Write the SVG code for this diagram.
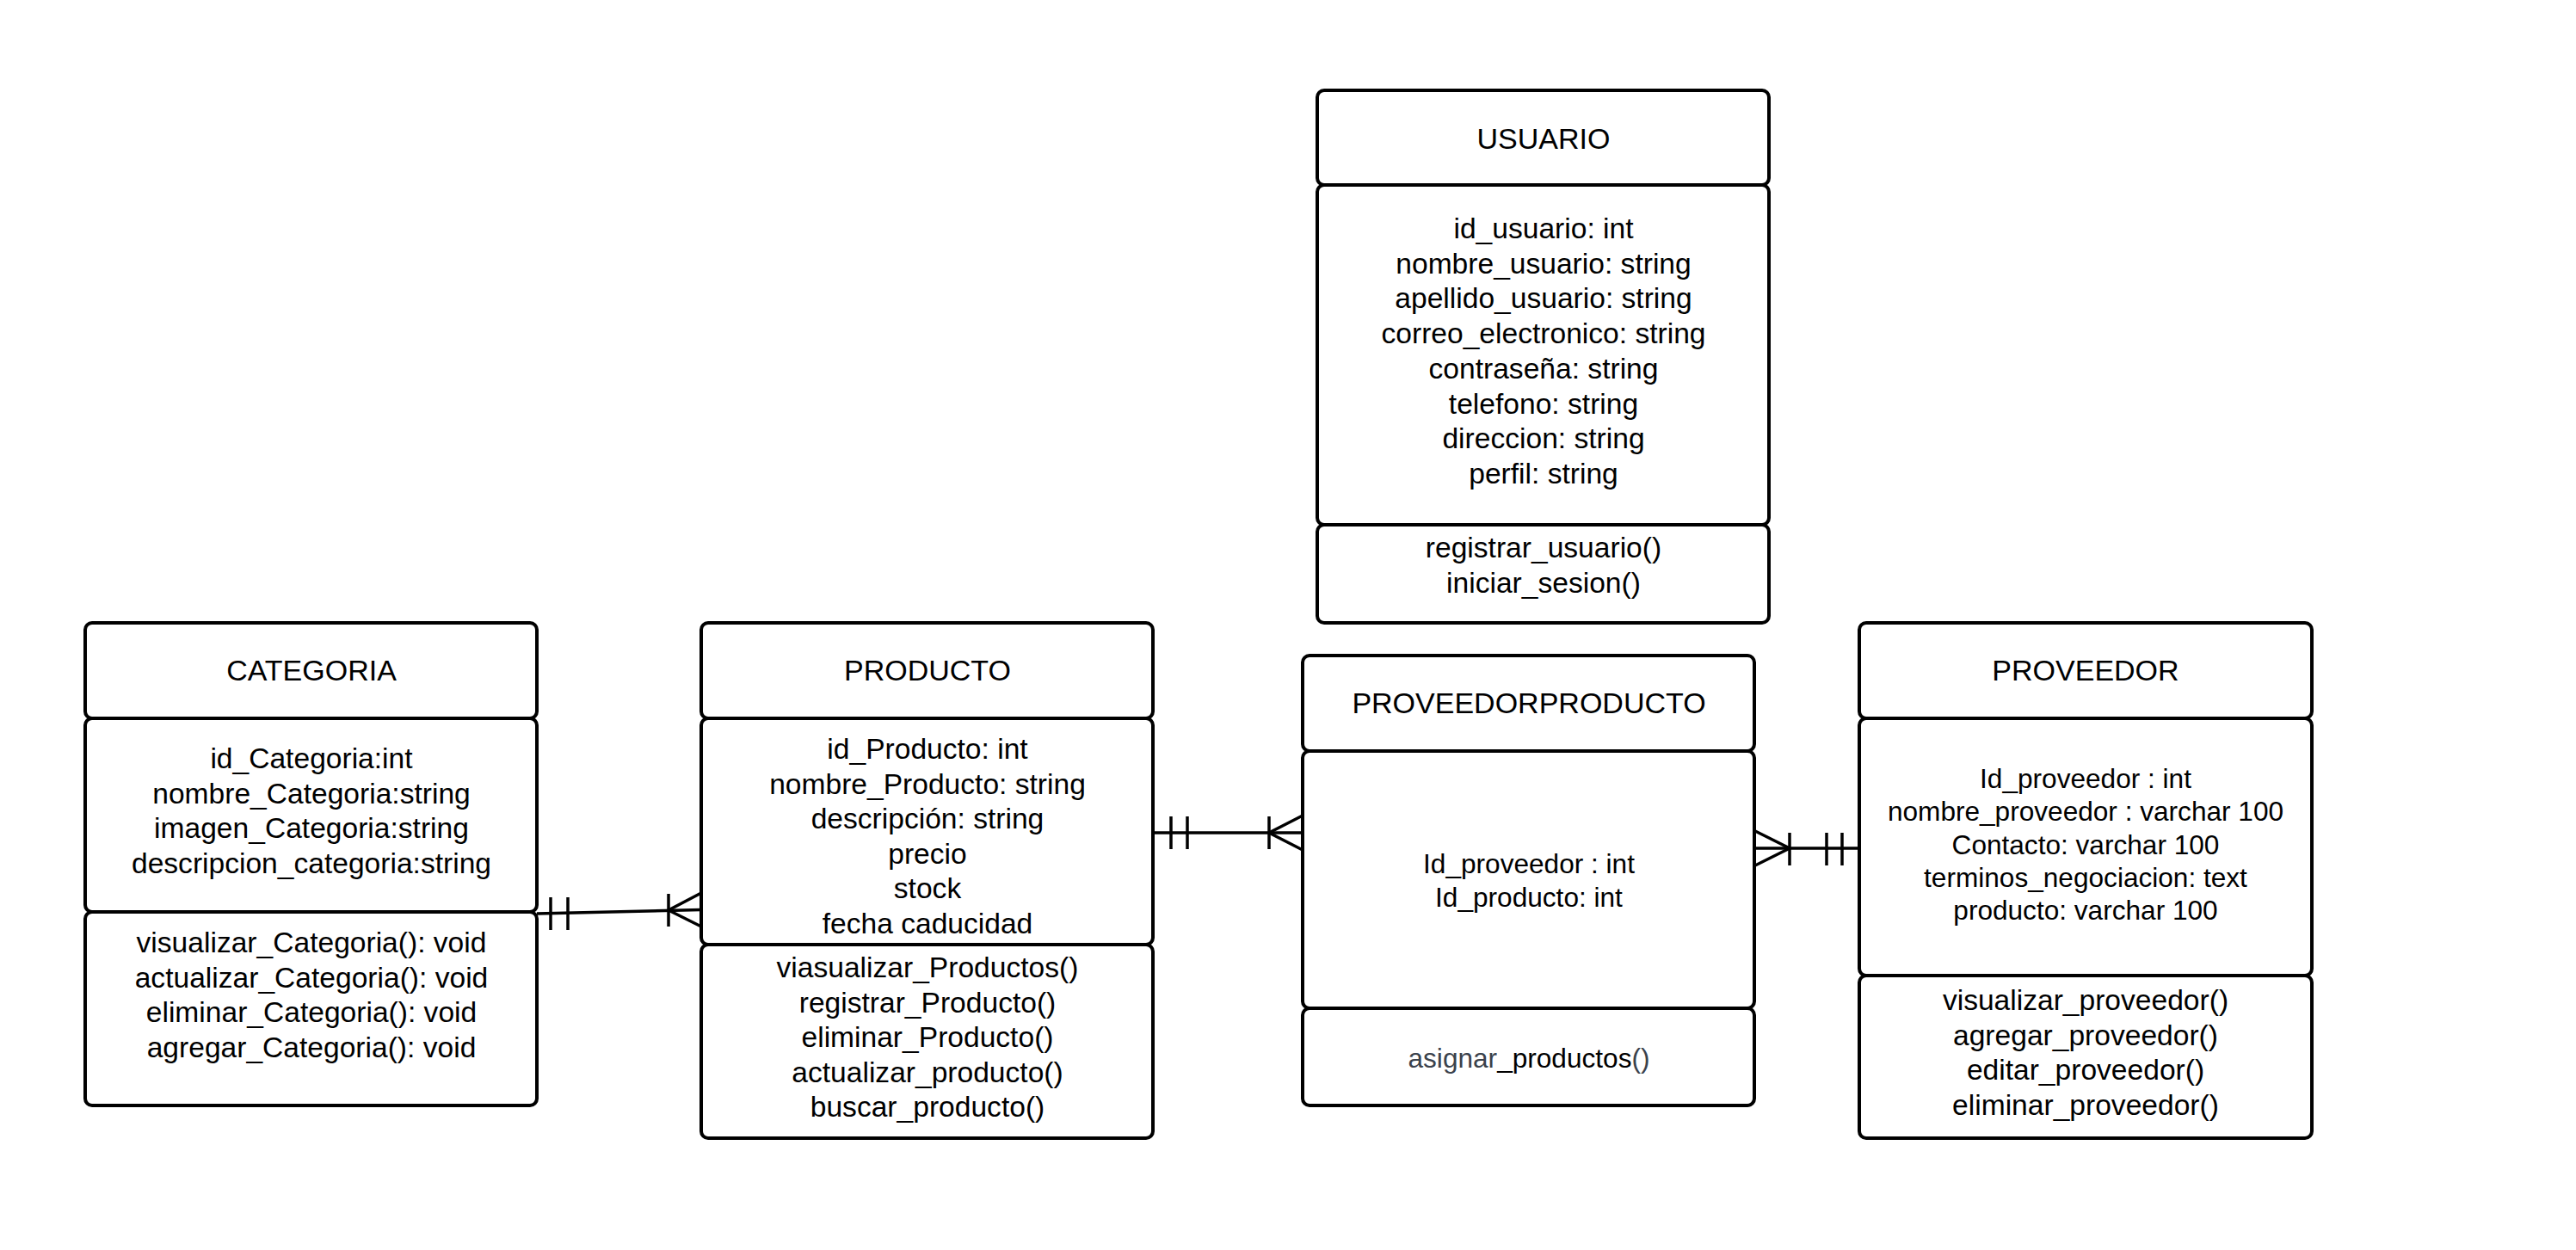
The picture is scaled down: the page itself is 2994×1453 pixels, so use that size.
<svg xmlns="http://www.w3.org/2000/svg" width="2994" height="1453" viewBox="0 0 2994 1453">
  <style>
    .box { fill: #ffffff; stroke: #000000; stroke-width: 4; }
    .t { font-family: "Liberation Sans", Arial, sans-serif; fill: #000000; text-anchor: middle; }
    .h { font-size: 34px; }
    .m { font-size: 33.6px; }
    .s { font-size: 31.6px; }
    .gray { fill: #3b424c; }
    .link { fill: none; stroke: #000000; stroke-width: 3.5; }
  </style>
  <rect x="0" y="0" width="2994" height="1453" fill="#ffffff"/>

  <!-- USUARIO -->
  <g id="usuario">
    <rect class="box" x="1531" y="105" width="525" height="110" rx="8"/>
    <rect class="box" x="1531" y="215" width="525" height="395" rx="8"/>
    <rect class="box" x="1531" y="610" width="525" height="114" rx="8"/>
    <text class="t h" x="1794" y="173">USUARIO</text>
    <text class="t m" x="1794" y="277"><tspan x="1794">id_usuario: int</tspan><tspan x="1794" dy="40.7">nombre_usuario: string</tspan><tspan x="1794" dy="40.7">apellido_usuario: string</tspan><tspan x="1794" dy="40.7">correo_electronico: string</tspan><tspan x="1794" dy="40.7">contraseña: string</tspan><tspan x="1794" dy="40.7">telefono: string</tspan><tspan x="1794" dy="40.7">direccion: string</tspan><tspan x="1794" dy="40.7">perfil: string</tspan></text>
    <text class="t m" x="1794" y="648"><tspan x="1794">registrar_usuario()</tspan><tspan x="1794" dy="40.7">iniciar_sesion()</tspan></text>
  </g>

  <!-- CATEGORIA -->
  <g id="categoria">
    <rect class="box" x="99" y="724" width="525" height="111" rx="8"/>
    <rect class="box" x="99" y="835" width="525" height="225" rx="8"/>
    <rect class="box" x="99" y="1060" width="525" height="225" rx="8"/>
    <text class="t h" x="362" y="791">CATEGORIA</text>
    <text class="t m" x="362" y="893"><tspan x="362">id_Categoria:int</tspan><tspan x="362" dy="40.5">nombre_Categoria:string</tspan><tspan x="362" dy="40.5">imagen_Categoria:string</tspan><tspan x="362" dy="40.5">descripcion_categoria:string</tspan></text>
    <text class="t m" x="362" y="1107"><tspan x="362">visualizar_Categoria(): void</tspan><tspan x="362" dy="40.5">actualizar_Categoria(): void</tspan><tspan x="362" dy="40.5">eliminar_Categoria(): void</tspan><tspan x="362" dy="40.5">agregar_Categoria(): void</tspan></text>
  </g>

  <!-- PRODUCTO -->
  <g id="producto">
    <rect class="box" x="815" y="724" width="525" height="111" rx="8"/>
    <rect class="box" x="815" y="835" width="525" height="263" rx="8"/>
    <rect class="box" x="815" y="1098" width="525" height="225" rx="8"/>
    <text class="t h" x="1078" y="791">PRODUCTO</text>
    <text class="t m" x="1078" y="882"><tspan x="1078">id_Producto: int</tspan><tspan x="1078" dy="40.5">nombre_Producto: string</tspan><tspan x="1078" dy="40.5">descripción: string</tspan><tspan x="1078" dy="40.5">precio</tspan><tspan x="1078" dy="40.5">stock</tspan><tspan x="1078" dy="40.5">fecha caducidad</tspan></text>
    <text class="t m" x="1078" y="1136"><tspan x="1078">viasualizar_Productos()</tspan><tspan x="1078" dy="40.5">registrar_Producto()</tspan><tspan x="1078" dy="40.5">eliminar_Producto()</tspan><tspan x="1078" dy="40.5">actualizar_producto()</tspan><tspan x="1078" dy="40.5">buscar_producto()</tspan></text>
  </g>

  <!-- PROVEEDORPRODUCTO -->
  <g id="proveedorproducto">
    <rect class="box" x="1514" y="762" width="525" height="111" rx="8"/>
    <rect class="box" x="1514" y="873" width="525" height="299" rx="8"/>
    <rect class="box" x="1514" y="1172" width="525" height="113" rx="8"/>
    <text class="t h" x="1777" y="829">PROVEEDORPRODUCTO</text>
    <text class="t s" x="1777" y="1015"><tspan x="1777">Id_proveedor : int</tspan><tspan x="1777" dy="38.5">Id_producto: int</tspan></text>
    <text class="t s" x="1777" y="1241"><tspan class="gray">asignar</tspan>_productos<tspan class="gray">()</tspan></text>
  </g>

  <!-- PROVEEDOR -->
  <g id="proveedor">
    <rect class="box" x="2161" y="724" width="526" height="111" rx="8"/>
    <rect class="box" x="2161" y="835" width="526" height="299" rx="8"/>
    <rect class="box" x="2161" y="1134" width="526" height="189" rx="8"/>
    <text class="t h" x="2424" y="791">PROVEEDOR</text>
    <text class="t s" x="2424" y="916"><tspan x="2424">Id_proveedor : int</tspan><tspan x="2424" dy="38.3">nombre_proveedor : varchar 100</tspan><tspan x="2424" dy="38.3">Contacto: varchar 100</tspan><tspan x="2424" dy="38.3">terminos_negociacion: text</tspan><tspan x="2424" dy="38.3">producto: varchar 100</tspan></text>
    <text class="t m" x="2424" y="1174"><tspan x="2424">visualizar_proveedor()</tspan><tspan x="2424" dy="40.7">agregar_proveedor()</tspan><tspan x="2424" dy="40.7">editar_proveedor()</tspan><tspan x="2424" dy="40.7">eliminar_proveedor()</tspan></text>
  </g>

  <!-- relationships: one-and-only-one to one-or-many -->
  <g id="connectors">
    <!-- CATEGORIA to PRODUCTO -->
    <g>
      <path class="link" d="M624 1062 L815 1057.5"/>
      <path class="link" d="M640 1043 V1081 M660 1043 V1081"/>
      <path class="link" d="M777 1039 V1077"/>
      <path class="link" d="M815 1038 L777 1058 L815 1077"/>
    </g>
    <!-- PRODUCTO to PROVEEDORPRODUCTO -->
    <g>
      <path class="link" d="M1340 968 H1514"/>
      <path class="link" d="M1361 949 V987 M1380 949 V987"/>
      <path class="link" d="M1475 949 V987"/>
      <path class="link" d="M1514 948 L1475 968 L1514 988"/>
    </g>
    <!-- PROVEEDORPRODUCTO to PROVEEDOR -->
    <g>
      <path class="link" d="M2039 986 H2161"/>
      <path class="link" d="M2123 968 V1006 M2141 968 V1006"/>
      <path class="link" d="M2080 968 V1006"/>
      <path class="link" d="M2040 966 L2080 986 L2040 1006"/>
    </g>
  </g>
</svg>
